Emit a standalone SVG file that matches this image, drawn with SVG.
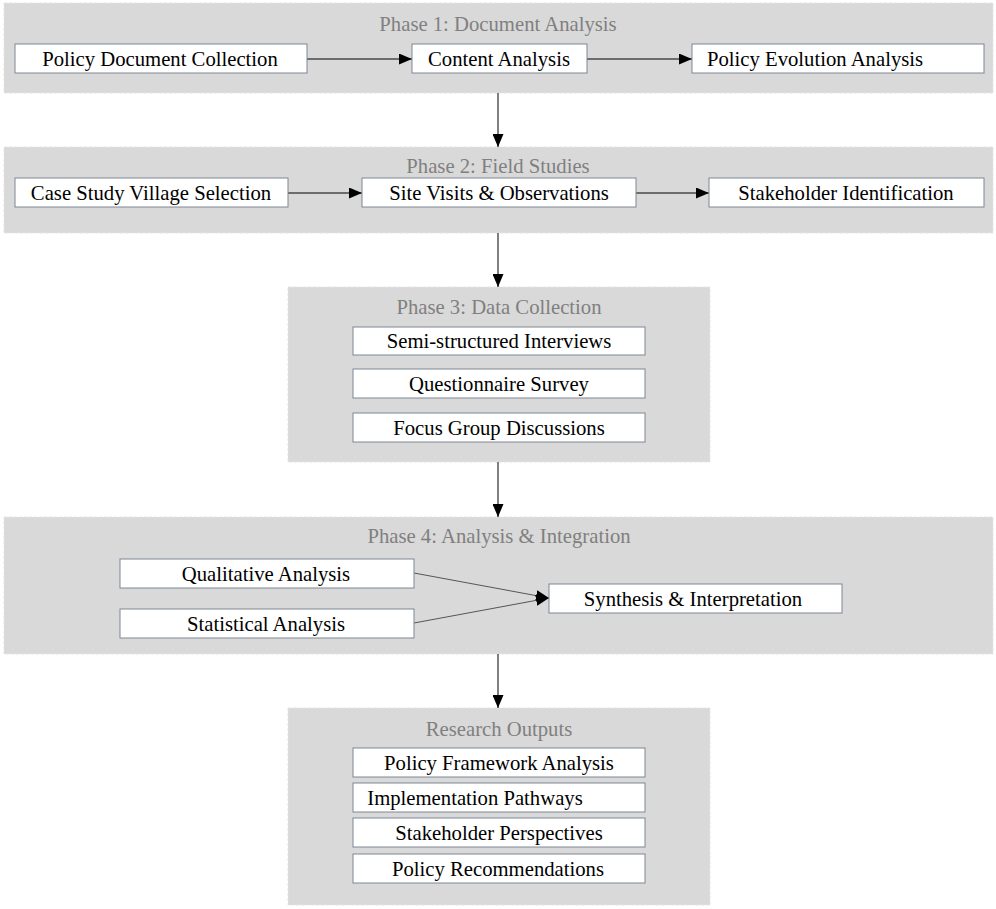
<svg xmlns="http://www.w3.org/2000/svg" width="996" height="909" viewBox="0 0 996 909">
<defs>
<style>
.panel{fill:#d9d9d9;stroke:#e4e4e4;stroke-width:1;stroke-dasharray:3 2}
.title{font-family:"Liberation Serif","Times New Roman",serif;font-size:20.7px;fill:#808080;text-anchor:middle}
.box{fill:#ffffff;stroke:#7d8894;stroke-width:1}
.lbl{font-family:"Liberation Serif","Times New Roman",serif;font-size:20.7px;fill:#000000;text-anchor:middle}
.conn{stroke:#000000;stroke-width:1;fill:none}
.conn2{stroke:#555555;stroke-width:1;fill:none}
</style>
<marker id="ah" markerWidth="13" markerHeight="11" refX="13" refY="5.5" orient="auto" markerUnits="userSpaceOnUse">
<path d="M0,0 L13,5.5 L0,11 Z" fill="#000000"/>
</marker>
</defs>

<g id="phase1">
<rect class="panel" x="4" y="3" width="989" height="90"/>
<text class="title" x="498" y="31">Phase 1: Document Analysis</text>
</g>
<g id="phase2">
<rect class="panel" x="4" y="147" width="989" height="86"/>
<text class="title" x="498" y="173">Phase 2: Field Studies</text>
</g>
<g id="phase3">
<rect class="panel" x="288" y="287" width="422" height="175"/>
<text class="title" x="499" y="314">Phase 3: Data Collection</text>
</g>
<g id="phase4">
<rect class="panel" x="4" y="517" width="989" height="137"/>
<text class="title" x="499" y="543">Phase 4: Analysis &amp; Integration</text>
</g>
<g id="outputs">
<rect class="panel" x="288" y="708" width="422" height="197"/>
<text class="title" x="499" y="736">Research Outputs</text>
</g>

<g id="connectors">
<line class="conn" x1="307" y1="59" x2="412" y2="59" marker-end="url(#ah)"/>
<line class="conn" x1="587" y1="59" x2="692" y2="59" marker-end="url(#ah)"/>
<line class="conn" x1="498" y1="93" x2="498" y2="147" marker-end="url(#ah)"/>
<line class="conn" x1="288" y1="193" x2="362" y2="193" marker-end="url(#ah)"/>
<line class="conn" x1="636" y1="193" x2="709" y2="193" marker-end="url(#ah)"/>
<line class="conn" x1="498" y1="233" x2="498" y2="287" marker-end="url(#ah)"/>
<line class="conn" x1="498" y1="462" x2="498" y2="517" marker-end="url(#ah)"/>
<line class="conn2" x1="414" y1="573" x2="549" y2="598" marker-end="url(#ah)"/>
<line class="conn2" x1="414" y1="623" x2="549" y2="598" marker-end="url(#ah)"/>
<line class="conn" x1="498" y1="654" x2="498" y2="708" marker-end="url(#ah)"/>
</g>

<g id="n-policy-doc"><rect class="box" x="15" y="44" width="292" height="29"/><text class="lbl" x="160" y="66">Policy Document Collection</text></g>
<g id="n-content"><rect class="box" x="412" y="44" width="175" height="29"/><text class="lbl" x="499" y="66">Content Analysis</text></g>
<g id="n-evolution"><rect class="box" x="692" y="44" width="292" height="29"/><text class="lbl" x="707" y="66" style="text-anchor:start">Policy Evolution Analysis</text></g>

<g id="n-case"><rect class="box" x="15" y="178" width="273" height="29"/><text class="lbl" x="151" y="200">Case Study Village Selection</text></g>
<g id="n-site"><rect class="box" x="362" y="178" width="274" height="29"/><text class="lbl" x="499" y="200">Site Visits &amp; Observations</text></g>
<g id="n-stake"><rect class="box" x="709" y="178" width="275" height="29"/><text class="lbl" x="846" y="200">Stakeholder Identification</text></g>

<g id="n-semi"><rect class="box" x="353" y="327" width="292" height="28"/><text class="lbl" x="499" y="348">Semi-structured Interviews</text></g>
<g id="n-quest"><rect class="box" x="353" y="369" width="292" height="29"/><text class="lbl" x="499" y="391">Questionnaire Survey</text></g>
<g id="n-focus"><rect class="box" x="353" y="413" width="292" height="29"/><text class="lbl" x="499" y="435">Focus Group Discussions</text></g>

<g id="n-qual"><rect class="box" x="120" y="559" width="294" height="29"/><text class="lbl" x="266" y="581">Qualitative Analysis</text></g>
<g id="n-stat"><rect class="box" x="120" y="609" width="294" height="29"/><text class="lbl" x="266" y="631">Statistical Analysis</text></g>
<g id="n-synth"><rect class="box" x="549" y="584" width="293" height="29"/><text class="lbl" x="693" y="606">Synthesis &amp; Interpretation</text></g>

<g id="n-framework"><rect class="box" x="353" y="748" width="292" height="29"/><text class="lbl" x="499" y="770">Policy Framework Analysis</text></g>
<g id="n-impl"><rect class="box" x="353" y="783" width="292" height="29"/><text class="lbl" x="475" y="805">Implementation Pathways</text></g>
<g id="n-persp"><rect class="box" x="353" y="818" width="292" height="29"/><text class="lbl" x="499" y="840">Stakeholder Perspectives</text></g>
<g id="n-recs"><rect class="box" x="353" y="854" width="292" height="29"/><text class="lbl" x="498" y="876">Policy Recommendations</text></g>
</svg>
